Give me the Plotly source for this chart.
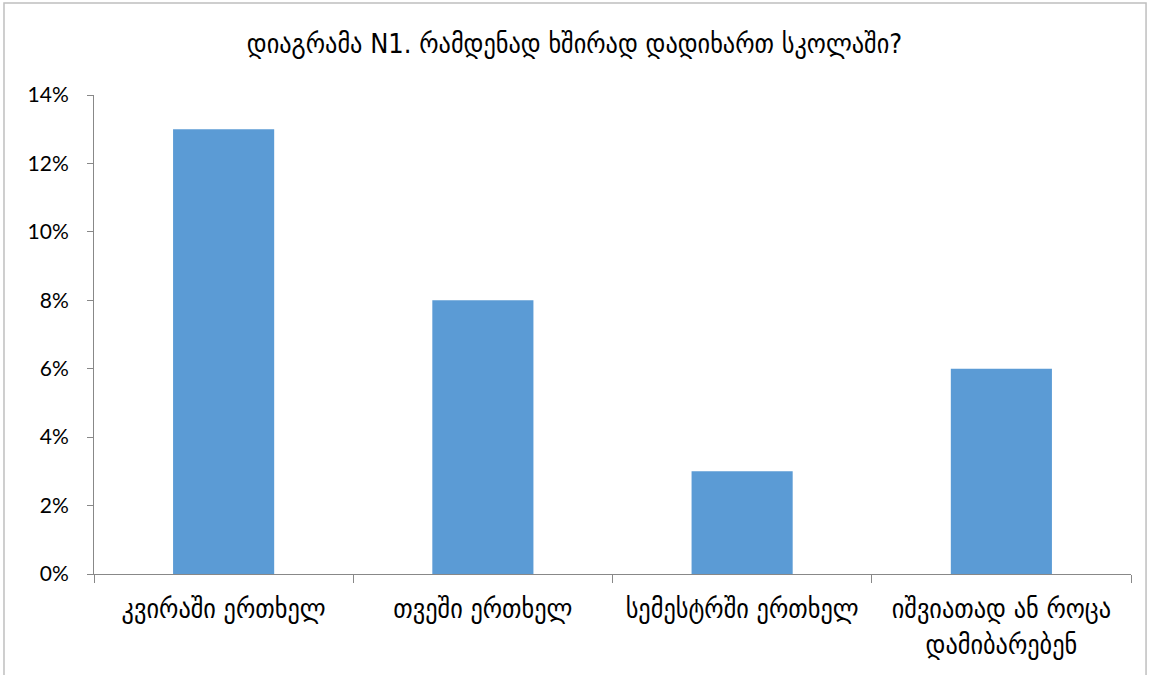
import plotly.graph_objects as go

categories = ["კვირაში ერთხელ", "თვეში ერთხელ", "სემესტრში ერთხელ", "იშვიათად ან როცა<br>დამიბარებენ"]
shares = [0.13, 0.08, 0.03, 0.06]
y_ticks = [0, 0.02, 0.04, 0.06, 0.08, 0.10, 0.12, 0.14]

GEO_FONT = "DejaVu Sans Condensed, DejaVu Sans, sans-serif"
AXIS_COLOR = "#888888"

fig = go.Figure()
fig.add_trace(go.Bar(
    x=categories, y=shares,
    marker=dict(color="#5b9bd5", line=dict(width=0)),
))

fig.update_layout(
    width=1149, height=675,
    paper_bgcolor="white", plot_bgcolor="white",
    margin=dict(l=94, r=18, t=95, b=101),
    bargap=0.61,
    showlegend=False,
    title=dict(text="დიაგრამა N1. რამდენად ხშირად დადიხართ სკოლაში?",
               x=0.5, xanchor="center", y=0.935, yanchor="middle",
               font=dict(family=GEO_FONT, size=27, color="black")),
    xaxis=dict(
        showline=True, linecolor=AXIS_COLOR, linewidth=1,
        ticks="outside", tickson="boundaries", ticklen=8, tickcolor=AXIS_COLOR,
        ticklabelstandoff=11,
        showgrid=False, zeroline=False,
        tickfont=dict(family=GEO_FONT, size=27, color="black"),
    ),
    yaxis=dict(
        range=[0, 0.14], tickvals=y_ticks, tickformat=".0%",
        showline=True, linecolor=AXIS_COLOR, linewidth=1,
        ticks="outside", ticklen=6, tickcolor=AXIS_COLOR,
        ticklabelstandoff=14,
        showgrid=False, zeroline=False,
        tickfont=dict(family="Lato, sans-serif", size=21, color="black"),
    ),
    shapes=[dict(type="rect", xref="paper", yref="paper",
                 x0=-0.0868, x1=1.0145, y0=-0.25, y1=1.192,
                 line=dict(color="#bfbfbf", width=1.5), fillcolor="rgba(0,0,0,0)")],
)

# drop the page's default body margin so the figure sits at the window's corner
fig.write_html("out.html", config={"displayModeBar": False},
               post_script="document.body.style.margin='0';")
